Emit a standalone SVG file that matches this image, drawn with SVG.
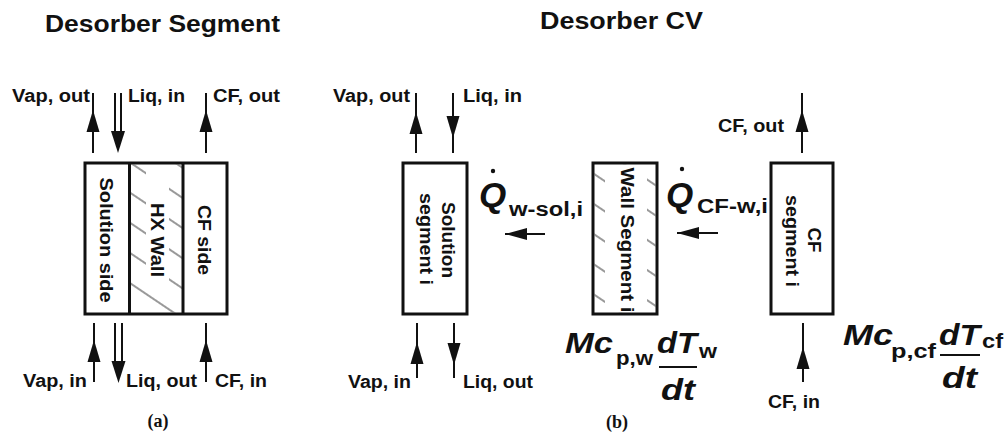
<svg xmlns="http://www.w3.org/2000/svg" width="1005" height="438" viewBox="0 0 1005 438">
<style>
.t{font-family:"Liberation Sans",Arial,sans-serif;font-weight:bold;fill:#111}
.lbl{font-size:18px}
.rot{font-size:19px;text-anchor:middle}
.title{font-size:23px}
.box{fill:none;stroke:#111;stroke-width:3}
.ln{stroke:#111;stroke-width:2;fill:none}
.ah{fill:#111}
.eq{font-family:"Liberation Sans",Arial,sans-serif;font-weight:bold;font-style:italic;fill:#111;font-size:30px}
.sub{font-family:"Liberation Sans",Arial,sans-serif;font-weight:bold;fill:#111;font-size:20px}
.cap{font-family:"Liberation Serif","Times New Roman",serif;font-weight:bold;font-size:18px;fill:#111}
.mask{fill:#fff}
</style>
<defs>
<pattern id="hatch" patternUnits="userSpaceOnUse" width="10" height="25" patternTransform="rotate(34)">
<line x1="-1" y1="12" x2="11" y2="12" stroke="#333" stroke-width="1"/>
</pattern>
<path id="up" d="M0,0 L-6.5,22 L6.5,22 Z"/>
<path id="down" d="M0,0 L-6.5,-22 L6.5,-22 Z"/>
<path id="downW" d="M0,0 L-7,-22 L7,-22 Z"/>
<path id="left" d="M0,0 L22,-6 L22,6 Z"/>
</defs>
<rect x="0" y="0" width="1005" height="438" fill="#fff"/>

<g id="titles">
<text class="t title" x="45" y="32" textLength="235" lengthAdjust="spacingAndGlyphs">Desorber Segment</text>
<text class="t title" x="540" y="29" textLength="163" lengthAdjust="spacingAndGlyphs" style="font-size:24px">Desorber CV</text>
<text class="cap" x="158" y="427" text-anchor="middle">(a)</text>
<text class="cap" x="617" y="428" text-anchor="middle">(b)</text>
</g>

<g id="segment-a">
<rect x="129.5" y="164.5" width="53.5" height="148" fill="url(#hatch)"/>
<rect class="mask" x="146" y="172" width="23" height="114"/>
<rect class="box" x="85" y="163" width="142" height="151"/>
<line class="box" x1="129.5" y1="163" x2="129.5" y2="314"/>
<line class="box" x1="183" y1="163" x2="183" y2="314"/>
<text class="t rot" transform="translate(100,240) rotate(90)" textLength="125" lengthAdjust="spacingAndGlyphs">Solution side</text>
<text class="t rot" transform="translate(151,240) rotate(90)" textLength="74" lengthAdjust="spacingAndGlyphs">HX Wall</text>
<text class="t rot" transform="translate(198,240) rotate(90)" textLength="70" lengthAdjust="spacingAndGlyphs">CF side</text>
</g>

<g id="solution-segment">
<rect class="box" x="403" y="163" width="64" height="151"/>
<text class="t rot" transform="translate(442,240) rotate(90)" textLength="76" lengthAdjust="spacingAndGlyphs">Solution</text>
<text class="t rot" transform="translate(420,239) rotate(90)" textLength="92" lengthAdjust="spacingAndGlyphs">segment i</text>
</g>

<g id="wall-segment">
<rect x="594.5" y="164.5" width="61" height="148" fill="url(#hatch)"/>
<rect class="mask" x="605" y="164.5" width="42" height="148"/>
<rect class="box" x="593" y="163" width="64" height="151"/>
<text class="t rot" transform="translate(621,240) rotate(90)" textLength="145" lengthAdjust="spacingAndGlyphs">Wall Segment i</text>
</g>

<g id="cf-segment">
<rect class="box" x="771" y="163" width="62" height="151"/>
<text class="t rot" transform="translate(808,240) rotate(90)" textLength="25" lengthAdjust="spacingAndGlyphs">CF</text>
<text class="t rot" transform="translate(786,241) rotate(90)" textLength="92" lengthAdjust="spacingAndGlyphs">segment i</text>
</g>

<g id="connectors">
<line class="ln" x1="93" y1="93" x2="93" y2="153"/><use href="#up" class="ah" x="93" y="110"/>
<line class="ln" x1="115" y1="93" x2="115" y2="133"/><line class="ln" x1="121" y1="93" x2="121" y2="133"/><use href="#downW" class="ah" x="118" y="153"/>
<line class="ln" x1="206" y1="93" x2="206" y2="153"/><use href="#up" class="ah" x="206" y="110"/>
<line class="ln" x1="94" y1="323" x2="94" y2="382"/><use href="#up" class="ah" x="94" y="340"/>
<line class="ln" x1="115" y1="323" x2="115" y2="362"/><line class="ln" x1="122" y1="323" x2="122" y2="362"/><use href="#downW" class="ah" x="118.5" y="383"/>
<line class="ln" x1="206" y1="323" x2="206" y2="382"/><use href="#up" class="ah" x="206" y="340"/>
<line class="ln" x1="416" y1="93" x2="416" y2="153"/><use href="#up" class="ah" x="416" y="112"/>
<line class="ln" x1="453" y1="93" x2="453" y2="153"/><use href="#down" class="ah" x="453" y="138"/>
<line class="ln" x1="417" y1="323" x2="417" y2="378"/><use href="#up" class="ah" x="417" y="342"/>
<line class="ln" x1="454" y1="323" x2="454" y2="378"/><use href="#down" class="ah" x="454" y="365"/>
<line class="ln" x1="505" y1="234" x2="545" y2="234"/><use href="#left" class="ah" x="505" y="234"/>
<line class="ln" x1="677" y1="233" x2="718" y2="233"/><use href="#left" class="ah" x="677" y="233"/>
<line class="ln" x1="802" y1="93" x2="802" y2="153"/><use href="#up" class="ah" x="802" y="110"/>
<line class="ln" x1="803" y1="323" x2="803" y2="382"/><use href="#up" class="ah" x="803" y="347"/>
</g>

<g id="labels">
<text class="t lbl" x="12" y="102" textLength="78" lengthAdjust="spacingAndGlyphs">Vap, out</text>
<text class="t lbl" x="128" y="102" textLength="57" lengthAdjust="spacingAndGlyphs">Liq, in</text>
<text class="t lbl" x="213" y="102" textLength="67" lengthAdjust="spacingAndGlyphs">CF, out</text>
<text class="t lbl" x="23" y="387" textLength="64" lengthAdjust="spacingAndGlyphs">Vap, in</text>
<text class="t lbl" x="126" y="387" textLength="71" lengthAdjust="spacingAndGlyphs">Liq, out</text>
<text class="t lbl" x="215" y="387" textLength="52" lengthAdjust="spacingAndGlyphs">CF, in</text>
<text class="t lbl" x="333" y="102" textLength="77" lengthAdjust="spacingAndGlyphs">Vap, out</text>
<text class="t lbl" x="463" y="102" textLength="59" lengthAdjust="spacingAndGlyphs">Liq, in</text>
<text class="t lbl" x="348" y="388" textLength="63" lengthAdjust="spacingAndGlyphs">Vap, in</text>
<text class="t lbl" x="463" y="388" textLength="70" lengthAdjust="spacingAndGlyphs">Liq, out</text>
<text class="t lbl" x="718" y="132" textLength="66" lengthAdjust="spacingAndGlyphs">CF, out</text>
<text class="t lbl" x="768" y="408" textLength="52" lengthAdjust="spacingAndGlyphs">CF, in</text>
</g>

<g id="q-wall-sol">
<text class="eq" x="479" y="207" style="font-size:35px">Q</text>
<circle cx="493" cy="171" r="2.2" fill="#111"/>
<text class="sub" x="509" y="216" textLength="74" lengthAdjust="spacingAndGlyphs">w-sol,i</text>
</g>
<g id="q-cf-wall">
<text class="eq" x="666" y="207" style="font-size:35px">Q</text>
<circle cx="682" cy="169" r="2.2" fill="#111"/>
<text class="sub" x="697" y="213" textLength="71" lengthAdjust="spacingAndGlyphs">CF-w,i</text>
</g>

<g id="eq-wall">
<text class="eq" x="565" y="353" textLength="48" lengthAdjust="spacingAndGlyphs">Mc</text>
<text class="sub" x="616" y="365" textLength="37" lengthAdjust="spacingAndGlyphs">p,w</text>
<text class="eq" x="657" y="353" textLength="40" lengthAdjust="spacingAndGlyphs">dT</text>
<line class="ln" x1="659" y1="367" x2="697" y2="367"/>
<text class="sub" x="699" y="358" textLength="18" lengthAdjust="spacingAndGlyphs">w</text>
<text class="eq" x="661" y="400" textLength="34" lengthAdjust="spacingAndGlyphs">dt</text>
</g>

<g id="eq-cf">
<text class="eq" x="843" y="345" textLength="50" lengthAdjust="spacingAndGlyphs">Mc</text>
<text class="sub" x="891" y="358" textLength="45" lengthAdjust="spacingAndGlyphs">p,cf</text>
<text class="eq" x="939" y="345" textLength="41" lengthAdjust="spacingAndGlyphs">dT</text>
<line class="ln" x1="940" y1="355" x2="980" y2="355"/>
<text class="sub" x="982" y="348" textLength="21" lengthAdjust="spacingAndGlyphs">cf</text>
<text class="eq" x="942" y="388" textLength="35" lengthAdjust="spacingAndGlyphs">dt</text>
</g>
</svg>
